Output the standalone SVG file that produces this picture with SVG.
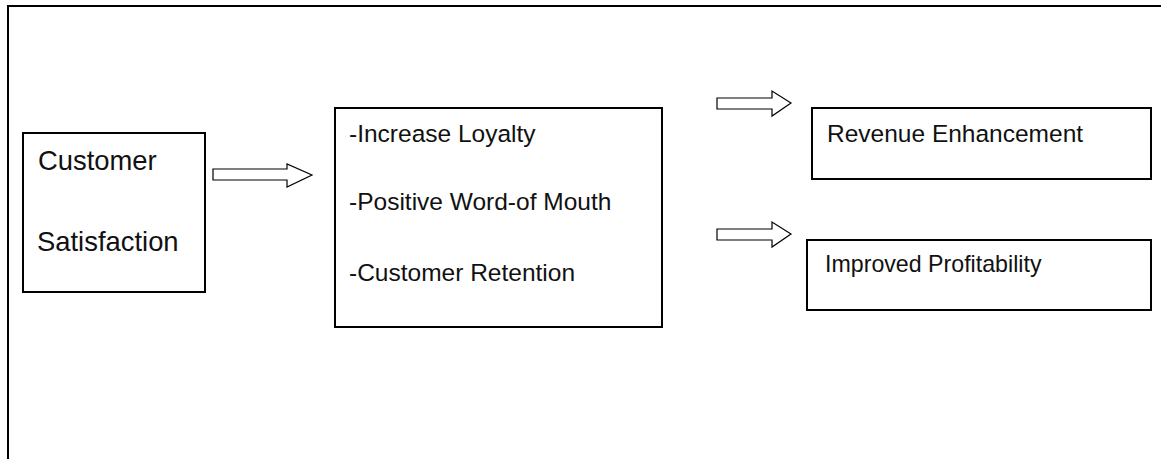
<svg xmlns="http://www.w3.org/2000/svg" width="1161" height="459" viewBox="0 0 1161 459">
<style>
.box{fill:#fff;stroke:#000;stroke-width:2}
.frame{fill:none;stroke:#000;stroke-width:2}
.arr{fill:#fff;stroke:#000;stroke-width:1.2;stroke-linejoin:miter}
text{font-family:"Liberation Sans",Arial,sans-serif;fill:#111}
.big{font-size:27.4px}
.mid{font-size:24.5px}
</style>
<rect width="1161" height="459" fill="#fff"/>
<path class="frame" d="M8,460 V6 H1162"/>
<g id="node-satisfaction">
<rect class="box" x="23" y="133" width="182" height="159"/>
<text class="big" x="38" y="170">Customer</text>
<text class="big" x="37" y="251">Satisfaction</text>
</g>
<g id="node-outcomes">
<rect class="box" x="335" y="108" width="327" height="219"/>
<text class="mid" x="349" y="142">-Increase Loyalty</text>
<text class="mid" x="349" y="210">-Positive Word-of Mouth</text>
<text class="mid" x="349" y="281">-Customer Retention</text>
</g>
<g id="node-revenue">
<rect class="box" x="812" y="108" width="339" height="71"/>
<text class="mid" x="827" y="142">Revenue Enhancement</text>
</g>
<g id="node-profit">
<rect class="box" x="807" y="240" width="344" height="70"/>
<text class="mid" x="825" y="272" style="font-size:23.2px">Improved Profitability</text>
</g>
<g id="connectors">
<polygon class="arr" points="213,169 287,169 287,164 312,175 287,187 287,180 213,180"/>
<polygon class="arr" points="717,98 772,98 772,91 791,103 772,116 772,109 717,109"/>
<polygon class="arr" points="717,229 772,229 772,222 791,234 772,247 772,240 717,240"/>
</g>
</svg>
